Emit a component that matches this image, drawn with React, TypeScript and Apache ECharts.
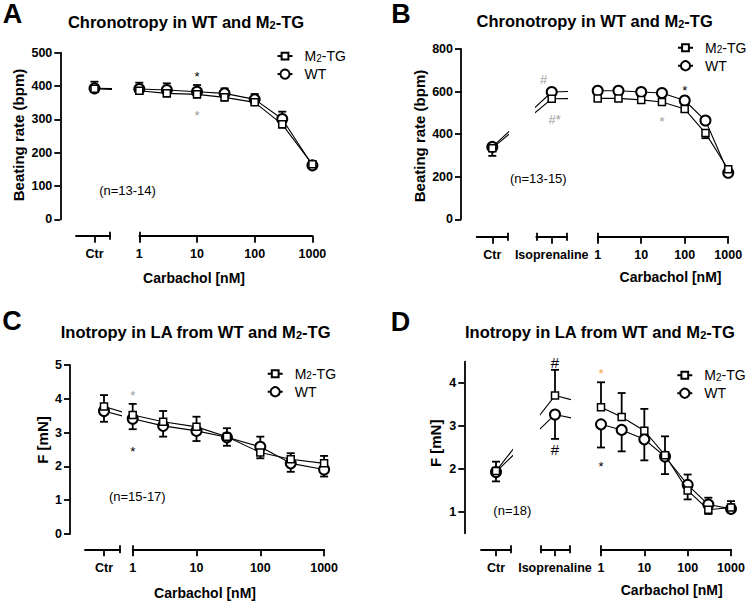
import React, { useEffect, useRef } from 'react';
import * as echarts from 'echarts';

const FONT = '"Liberation Sans", Arial, Helvetica, sans-serif';
const BLACK = '#000000';
const GREY = '#9c9c9c';
const ORANGE = '#f4a447';

// Carbachol concentrations (nM) and axis tick labels
const CONC = [1, 3, 10, 30, 100, 300, 1000];
const CARB_TICKS = [1, 10, 100, 1000];

// ---------- Panel A : Chronotropy (beating rate, bpm) ----------
const A_Y_TICKS = [0, 100, 200, 300, 400, 500];
const A_WT_CTR = [393, 20]; // mean, sem
const A_TG_CTR = [392, 8];
const A_WT = [391, 388, 383, 378, 360, 301, 162];
const A_WT_SEM = [19, 20, 20, 15, 16, 22, 8];
const A_TG = [386, 378, 375, 366, 351, 285, 165];
const A_TG_SEM = [10, 10, 10, 10, 8, 10, 8];

// ---------- Panel B : Chronotropy with isoprenaline ----------
const B_Y_TICKS = [0, 200, 400, 600, 800];
const B_WT_CTR = [340, 14];
const B_TG_CTR = [334, 36];
const B_WT_ISO = [598, 12];
const B_TG_ISO = [566, 12];
const B_WT = [604, 604, 598, 593, 558, 464, 219];
const B_WT_SEM = [12, 12, 12, 12, 12, 16, 8];
const B_TG = [568, 568, 561, 551, 518, 405, 235];
const B_TG_SEM = [12, 12, 12, 12, 12, 24, 12];

// ---------- Panel C : Inotropy (force, mN) ----------
const C_Y_TICKS = [0, 1, 2, 3, 4, 5];
const C_WT_CTR = [3.64, 0.32];
const C_TG_CTR = [3.77, 0.34];
const C_WT = [3.41, 3.2, 3.05, 2.86, 2.58, 2.09, 1.91];
const C_WT_SEM = [0.31, 0.32, 0.3, 0.25, 0.3, 0.25, 0.21];
const C_TG = [3.52, 3.32, 3.17, 2.88, 2.41, 2.21, 2.09];
const C_TG_SEM = [0.33, 0.32, 0.3, 0.25, 0.17, 0.18, 0.22];

// ---------- Panel D : Inotropy with isoprenaline ----------
const D_Y_TICKS = [1, 2, 3, 4];
const D_WT_CTR = [1.93, 0.22];
const D_TG_CTR = [1.95, 0.22];
const D_WT_ISO = [3.27, 0.57];
const D_TG_ISO = [3.71, 0.6];
const D_WT = [3.04, 2.91, 2.69, 2.29, 1.63, 1.17, 1.07];
const D_WT_SEM = [0.54, 0.5, 0.49, 0.41, 0.24, 0.16, 0.09];
const D_TG = [3.44, 3.21, 2.89, 2.32, 1.5, 1.05, 1.1];
const D_TG_SEM = [0.58, 0.56, 0.51, 0.44, 0.21, 0.1, 0.15];

// Significance marks: where (group), value level, text, colour
const A_ANN = [
  { at: 10, v: 438, t: '*', c: BLACK },
  { at: 10, v: 320, t: '*', c: GREY },
];
const B_ANN = [
  { at: 'iso', v: 655, t: '#', c: GREY, dx: -8 },
  { at: 'iso', v: 467, t: '#*', c: GREY, dx: 3 },
  { at: 30, v: 475, t: '*', c: GREY },
  { at: 100, v: 621, t: '*', c: BLACK },
];
const C_ANN = [
  { at: 1, v: 4.18, t: '*', c: GREY },
  { at: 1, v: 2.54, t: '*', c: BLACK },
];
const D_ANN = [
  { at: 'iso', v: 4.47, t: '#', c: BLACK, fs: 15 },
  { at: 'iso', v: 2.46, t: '#', c: BLACK, fs: 15 },
  { at: 1, v: 4.3, t: '*', c: ORANGE },
  { at: 1, v: 2.12, t: '*', c: BLACK },
];

// ---------- Layout (pixels) ----------
const LAY_A = {
  yAxisX: 60.3, top: 52.7, bottom: 219.3, axisY: 235.7, x1: 139.3, dec: 57.7,
  ctr: [76, 110, 94.5], iso: null as null | number[],
  letter: [12.5, 14], title: [186, 22], yName: [18, 135], xName: [194, 278], n: [127.5, 190], legend: [276.5, 53.3],
};
const LAY_B = {
  yAxisX: 461, top: 49, bottom: 219.3, axisY: 236.7, x1: 597.7, dec: 43.5,
  ctr: [476.7, 507.3, 492.3], iso: [536.3, 566.7, 551.7],
  letter: [401, 13.5], title: [594.7, 20.5], yName: [419, 136], xName: [670.5, 276.7], n: [538.3, 178.3], legend: [677, 45],
};
const LAY_C = {
  yAxisX: 70, top: 365, bottom: 534, axisY: 549.3, x1: 132.7, dec: 63.8,
  ctr: [85, 120, 104], iso: null as null | number[],
  letter: [12, 320.5], title: [195.5, 332.3], yName: [42, 440], xName: [205, 593.3], n: [137.3, 496.7], legend: [266.7, 371],
};
const LAY_D = {
  yAxisX: 464.3, top: 361.7, bottom: 533.3, axisY: 549.3, x1: 601, dec: 43.33,
  ctr: [481, 511, 496], iso: [540.7, 569.3, 555],
  letter: [400.5, 321.7], title: [599.7, 332.3], yName: [435, 443.3], xName: [671.7, 590], n: [512.3, 510], legend: [676.3, 372.5],
};

const PANELS = [
  {
    id: 'A', title: 'Chronotropy in WT and M', yName: 'Beating rate (bpm)', n: '(n=13-14)',
    yMin: 0, yMax: 500, yTicks: A_Y_TICKS, lay: LAY_A, ann: A_ANN,
    wt: { ctr: A_WT_CTR, iso: null as null | number[], carb: A_WT, sem: A_WT_SEM },
    tg: { ctr: A_TG_CTR, iso: null as null | number[], carb: A_TG, sem: A_TG_SEM },
  },
  {
    id: 'B', title: 'Chronotropy in WT and M', yName: 'Beating rate (bpm)', n: '(n=13-15)',
    yMin: 0, yMax: 800, yTicks: B_Y_TICKS, lay: LAY_B, ann: B_ANN,
    wt: { ctr: B_WT_CTR, iso: B_WT_ISO, carb: B_WT, sem: B_WT_SEM },
    tg: { ctr: B_TG_CTR, iso: B_TG_ISO, carb: B_TG, sem: B_TG_SEM },
  },
  {
    id: 'C', title: 'Inotropy in LA from WT and M', yName: 'F [mN]', n: '(n=15-17)',
    yMin: 0, yMax: 5, yTicks: C_Y_TICKS, lay: LAY_C, ann: C_ANN,
    wt: { ctr: C_WT_CTR, iso: null as null | number[], carb: C_WT, sem: C_WT_SEM },
    tg: { ctr: C_TG_CTR, iso: null as null | number[], carb: C_TG, sem: C_TG_SEM },
  },
  {
    id: 'D', title: 'Inotropy in LA from WT and M', yName: 'F [mN]', n: '(n=18)',
    yMin: 0.5, yMax: 4.5, yTicks: D_Y_TICKS, lay: LAY_D, ann: D_ANN,
    wt: { ctr: D_WT_CTR, iso: D_WT_ISO, carb: D_WT, sem: D_WT_SEM },
    tg: { ctr: D_TG_CTR, iso: D_TG_ISO, carb: D_TG, sem: D_TG_SEM },
  },
];

function textEl(x: number, y: number, text: string, font: any, extra: any = {}) {
  return {
    type: 'text', x, y, silent: true, ...extra,
    style: {
      text, fill: BLACK, fontFamily: FONT, ...font,
      align: 'center', verticalAlign: 'middle', textAlign: 'center', textVerticalAlign: 'middle',
    },
  };
}

const LEGEND_TEXT = {
  color: BLACK, fontFamily: FONT, fontSize: 14, padding: [0, 0, 0, 7],
  rich: {
    a: { fontSize: 14, fontFamily: FONT, color: BLACK },
    s: { fontSize: 10, fontFamily: FONT, color: BLACK, verticalAlign: 'bottom', lineHeight: 13 },
  },
};

function addPanel(opt: any, p: any) {
  const L = p.lay;
  const u = (px: number) => (px - L.x1) / L.dec;
  const carbMin = Math.log10(CARB_TICKS[0]);
  const carbMax = Math.log10(CARB_TICKS[CARB_TICKS.length - 1]);
  const segs: any[] = [{ kind: 'ctr', l: L.ctr[0], r: L.ctr[1], t: L.ctr[2], label: 'Ctr' }];
  if (L.iso) segs.push({ kind: 'iso', l: L.iso[0], r: L.iso[1], t: L.iso[2], label: 'Isoprenaline' });
  segs.push({ kind: 'carb', l: L.x1, r: L.x1 + (carbMax - carbMin) * L.dec });

  const uCtr = u(L.ctr[2]);
  const uIso = L.iso ? u(L.iso[2]) : 0;
  const groups = [
    { key: 'wt', name: 'WT', d: p.wt, o: p.tg, symbol: 'circle', size: 10, bw: 2, z: 3 },
    { key: 'tg', name: 'M2-TG', d: p.tg, o: p.wt, symbol: 'rect', size: 7, bw: 1.5, z: 4 },
  ];
  const dir = (key: string, m: number, o: number) => (key === 'tg' ? (m >= o ? 1 : -1) : (m > o ? 1 : -1));

  segs.forEach((s, i) => {
    const gi = opt.grid.length;
    opt.grid.push({ left: s.l, top: L.top, width: s.r - s.l, height: L.bottom - L.top, containLabel: false, outerBoundsMode: 'none' });
    const xmin = s.kind === 'carb' ? carbMin : u(s.l);
    const xmax = s.kind === 'carb' ? carbMax : u(s.r);
    const caps = s.kind === 'ctr' ? [xmax] : s.kind === 'iso' ? [xmin, xmax] : [xmin];
    const ticks = s.kind === 'carb' ? CARB_TICKS.map((c) => Math.log10(c)) : [u(s.t)];
    const xi = opt.xAxis.length;
    opt.xAxis.push({
      type: 'value', gridIndex: gi, min: xmin, max: xmax, position: 'bottom', offset: L.axisY - L.bottom,
      axisLine: { show: true, onZero: false, lineStyle: { color: BLACK, width: 1.8 } },
      axisTick: { show: true, customValues: ticks, length: 7, lineStyle: { color: BLACK, width: 1.8 } },
      axisLabel: {
        show: true, customValues: ticks, margin: 12, color: BLACK, fontFamily: FONT, fontWeight: 'bold', fontSize: 12.5,
        formatter: (v: number) => (s.kind === 'carb' ? String(Math.round(Math.pow(10, v))) : s.label),
      },
      splitLine: { show: false },
    });
    opt.xAxis.push({
      type: 'value', gridIndex: gi, min: xmin, max: xmax, position: 'bottom', offset: L.axisY - L.bottom + 4,
      axisLine: { show: false, onZero: false },
      axisTick: { show: true, inside: true, customValues: caps, length: 8, lineStyle: { color: BLACK, width: 1.8 } },
      axisLabel: { show: false }, splitLine: { show: false },
    });
    const yi = opt.yAxis.length;
    opt.yAxis.push({
      type: 'value', gridIndex: gi, min: p.yMin, max: p.yMax, show: i === 0, position: 'left', offset: s.l - L.yAxisX,
      axisLine: { show: true, onZero: false, lineStyle: { color: BLACK, width: 1.8 } },
      axisTick: { show: true, customValues: p.yTicks, length: 6, lineStyle: { color: BLACK, width: 1.8 } },
      axisLabel: { show: true, customValues: p.yTicks, margin: 8, color: BLACK, fontFamily: FONT, fontWeight: 'bold', fontSize: 12.5 },
      splitLine: { show: false },
    });

    groups.forEach((g) => {
      const head: number[][] = [[uCtr, g.d.ctr[0]]];
      if (L.iso) head.push([uIso, g.d.iso[0]]);
      const carbPts = CONC.map((c, k) => [Math.log10(c), g.d.carb[k]]);
      const lineData = s.kind === 'carb' ? carbPts : [...head, carbPts[0]];
      opt.series.push({
        type: 'line', name: g.name, xAxisIndex: xi, yAxisIndex: yi, data: lineData,
        clip: s.kind !== 'carb', showAllSymbol: true, symbol: g.symbol, symbolSize: g.size, z: g.z,
        itemStyle: { color: '#ffffff', borderColor: BLACK, borderWidth: g.bw },
        lineStyle: { color: BLACK, width: 1.1 }, emphasis: { disabled: true }, silent: true,
      });
      let err: number[][];
      if (s.kind === 'ctr') err = [[uCtr, g.d.ctr[0], g.d.ctr[1] * dir(g.key, g.d.ctr[0], g.o.ctr[0])]];
      else if (s.kind === 'iso') err = [[uIso, g.d.iso[0], g.d.iso[1] * dir(g.key, g.d.iso[0], g.o.iso[0])]];
      else err = CONC.map((c, k) => [Math.log10(c), g.d.carb[k], g.d.sem[k] * dir(g.key, g.d.carb[k], g.o.carb[k])]);
      opt.series.push({
        type: 'custom', name: 'err-' + g.key, xAxisIndex: xi, yAxisIndex: yi, z: 2, silent: true, data: err,
        renderItem: (_params: any, api: any) => {
          const x = api.value(0);
          const m = api.value(1);
          const e = api.value(2);
          const a = api.coord([x, m]);
          const b = api.coord([x, m + e]);
          return {
            type: 'group',
            children: [
              { type: 'line', shape: { x1: a[0], y1: a[1], x2: b[0], y2: b[1] }, style: { stroke: BLACK, lineWidth: 1.8 } },
              { type: 'line', shape: { x1: b[0] - 4, y1: b[1], x2: b[0] + 4, y2: b[1] }, style: { stroke: BLACK, lineWidth: 1.8 } },
            ],
          };
        },
      });
    });

    const anns = p.ann.filter((a: any) => (s.kind === 'iso' ? a.at === 'iso' : s.kind === 'carb' ? typeof a.at === 'number' : a.at === 'ctr'));
    if (anns.length) {
      opt.series.push({
        type: 'custom', name: 'ann', xAxisIndex: xi, yAxisIndex: yi, z: 5, silent: true,
        data: anns.map((a: any) => [a.at === 'iso' ? uIso : Math.log10(a.at), a.v]),
        renderItem: (params: any, api: any) => {
          const a = anns[params.dataIndex];
          const pt = api.coord([api.value(0), api.value(1)]);
          const fs = a.fs || 13;
          return {
            type: 'text', x: pt[0] + (a.dx || 0), y: pt[1] + (a.t === '*' ? 3 : 0),
            style: {
              text: a.t, fill: a.c, fontSize: fs, fontFamily: FONT,
              align: 'center', verticalAlign: 'middle', textAlign: 'center', textVerticalAlign: 'middle',
            },
          };
        },
      });
    }
  });

  // two single-item legends so that each icon keeps its own marker size
  const legendItems = [
    { name: 'M2-TG', h: 8.5, dy: 0 },
    { name: 'WT', h: 11.5, dy: 19.5 },
  ];
  legendItems.forEach((it) => {
    opt.legend.push({
      left: L.legend[0], top: L.legend[1] + it.dy - it.h / 2, orient: 'vertical', itemWidth: 15, itemHeight: it.h, padding: 0,
      selectedMode: false, data: [it.name],
      formatter: (nm: string) => (nm === 'M2-TG' ? '{a|M}{s|2}{a|-TG}' : '{a|WT}'),
      textStyle: LEGEND_TEXT,
    });
  });

  opt.graphic.push(textEl(L.letter[0], L.letter[1], p.id, { fontSize: 27, fontWeight: 'bold' }));
  opt.graphic.push({
    type: 'text', x: L.title[0], y: L.title[1], silent: true,
    style: {
      text: '{b|' + p.title + '}{s|2}{b|-TG}', fill: BLACK,
      align: 'center', verticalAlign: 'middle', textAlign: 'center', textVerticalAlign: 'middle',
      rich: {
        b: { fontFamily: FONT, fontWeight: 'bold', fontSize: 16.5, fill: BLACK },
        s: { fontFamily: FONT, fontWeight: 'bold', fontSize: 11, fill: BLACK, verticalAlign: 'bottom' },
      },
    },
  });
  opt.graphic.push(textEl(L.yName[0], L.yName[1], p.yName, { fontSize: 15, fontWeight: 'bold' }, { rotation: Math.PI / 2 }));
  opt.graphic.push(textEl(L.xName[0], L.xName[1], 'Carbachol [nM]', { fontSize: 14, fontWeight: 'bold' }));
  opt.graphic.push(textEl(L.n[0], L.n[1], p.n, { fontSize: 13 }));
}

function buildOption() {
  const opt: any = { animation: false, backgroundColor: '#ffffff', grid: [], xAxis: [], yAxis: [], series: [], legend: [], graphic: [] };
  PANELS.forEach((p) => addPanel(opt, p));
  return opt;
}

export default function App() {
  const ref = useRef<HTMLDivElement>(null);
  useEffect(() => {
    if (!ref.current) return;
    const chart = echarts.init(ref.current, null, { renderer: 'svg', width: 750, height: 601 });
    chart.setOption(buildOption());
    return () => chart.dispose();
  }, []);
  return <div ref={ref} style={{ position: 'absolute', left: 0, top: 0, width: 750, height: 601, background: '#fff' }} />;
}
